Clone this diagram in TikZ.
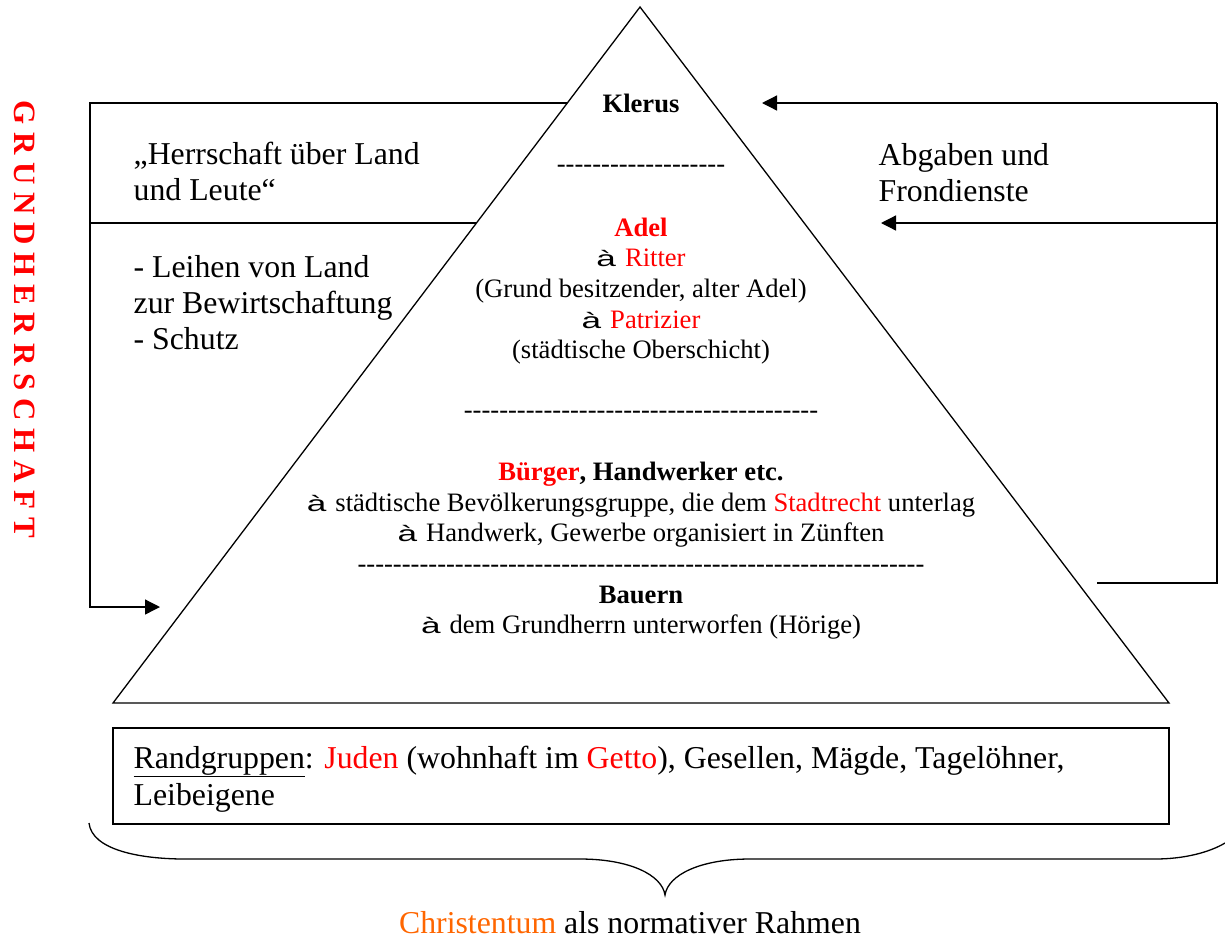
\documentclass[tikz,border=0pt]{standalone}
\usepackage{fontspec}
\usetikzlibrary{arrows.meta}
\newfontfamily\tnr{Liberation Serif}
\newfontfamily\arl{Liberation Sans}
\definecolor{myred}{RGB}{255,0,0}
\definecolor{myorange}{RGB}{255,102,0}
\newcommand\arr{{\arl\fontsize{22}{22}\selectfont\scalebox{1.6}[1]{à}}\hspace{9pt}}
\begin{document}
\begin{tikzpicture}[x=1pt,y=-1pt, line width=1.3pt, font=\tnr,
  big/.style={inner sep=0pt, anchor=base west, font=\tnr\fontsize{31.8}{36}\selectfont},
  pyr/.style={inner sep=0pt, anchor=base, font=\tnr\fontsize{26.6}{30.6}\selectfont},
  tip/.style={-{Triangle[length=15pt,width=15pt]}}]
\useasboundingbox (0,0) rectangle (1225,938);

% pyramid
\coordinate (apex) at (640,7);
\coordinate (bl) at (113,703);
\coordinate (br) at (1169,703);
\draw[line join=miter] (apex) -- (bl) -- (br) -- cycle;

% left frame
\coordinate (lte) at (567,103);
\coordinate (ltl) at (90,103);
\coordinate (lbl) at (90,607);
\coordinate (lba) at (160,607);
\coordinate (lml) at (90,223);
\coordinate (lme) at (476,223);
\draw[tip] (lte) -- (ltl) -- (lbl) -- (lba);
\draw (lml) -- (lme);

% right frame
\coordinate (rt) at (1217,103);
\coordinate (rta) at (762,103);
\coordinate (rm) at (1217,223);
\coordinate (rma) at (881,223);
\coordinate (rb) at (1217,583);
\coordinate (rbl) at (1097,583);
\draw[tip] (rt) -- (rta);
\draw[tip] (rm) -- (rma);
\draw (rbl) -- (rb) -- (rt);

% vertical title
\node[rotate=-90, inner sep=0pt, text=myred, font=\tnr\bfseries\fontsize{31}{34}\selectfont] (gh) at (25,319) {G R U N D H E R R S C H A F T};

% left texts
\node[big] (herr1) at (133,164) {„Herrschaft über Land};
\node[big] (herr2) at (133,200) {und Leute“};
\node[big] (leih1) at (133,277) {- Leihen von Land};
\node[big] (leih2) at (133,313) {zur Bewirtschaftung};
\node[big] (leih3) at (133,349) {- Schutz};

% right texts
\node[big] (abg1) at (878,165) {Abgaben und};
\node[big] (abg2) at (878,201) {Frondienste};

% pyramid texts
\node[pyr] (klerus) at (641,112) {\bfseries Klerus};
\node[pyr] (d1) at (641,172) {-------------------};
\node[pyr] (adel) at (641,236) {\bfseries\textcolor{myred}{Adel}};
\node[pyr] (ritter) at (641,266) {\arr\textcolor{myred}{Ritter}};
\node[pyr] (grund) at (641,297) {(Grund besitzender, alter Adel)};
\node[pyr] (patr) at (641,328) {\arr\textcolor{myred}{Patrizier}};
\node[pyr] (ober) at (641,358) {(städtische Oberschicht)};
\node[pyr] (d2) at (641,418) {----------------------------------------};
\node[pyr] (buerger) at (641,480) {\bfseries\textcolor{myred}{Bürger}, Handwerker etc.};
\node[pyr] (bev) at (641,511) {\arr städtische Bevölkerungsgruppe, die dem \textcolor{myred}{Stadtrecht} unterlag};
\node[pyr] (hw) at (641,541) {\arr Handwerk, Gewerbe organisiert in Zünften};
\node[pyr] (d3) at (641,572) {----------------------------------------------------------------};
\node[pyr] (bauern) at (641,603) {\bfseries Bauern};
\node[pyr] (hoerig) at (641,633) {\arr dem Grundherrn unterworfen (Hörige)};

% bottom box
\node[draw, inner sep=0pt, minimum width=1056pt, minimum height=96pt] (box) at (641,776) {};
\node[big] (rand1) at (133,768) {\underline{Randgruppen}: \textcolor{myred}{Juden} (wohnhaft im \textcolor{myred}{Getto}), Gesellen, Mägde, Tagelöhner,};
\node[big] (rand2) at (133,805) {Leibeigene};

% brace
\coordinate (bL) at (89,823);
\coordinate (bR) at (1225,843);
\coordinate (bM) at (665,895);
\draw (bL) .. controls (92,850) and (140,859) .. (185,859) -- (580,859)
  .. controls (630,859) and (662,875) .. (bM)
  .. controls (668,875) and (700,859) .. (750,859) -- (1155,859)
  .. controls (1185,859) and (1210,852) .. (bR);

\node[inner sep=0pt, anchor=base, font=\tnr\fontsize{31.8}{36}\selectfont] (christ) at (630,933) {\textcolor{myorange}{Christentum} als normativer Rahmen};
\end{tikzpicture}
\end{document}
